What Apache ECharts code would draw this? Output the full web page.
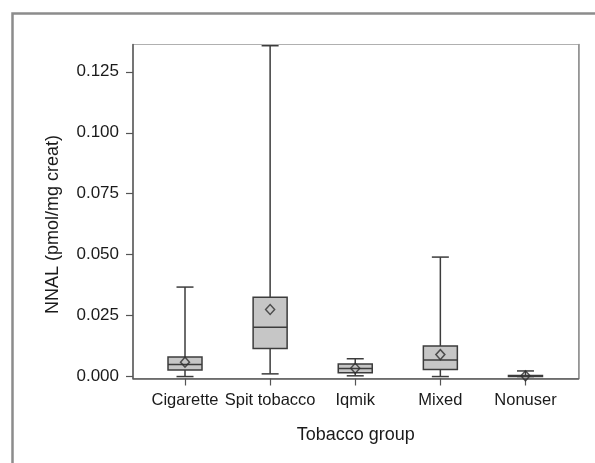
<!DOCTYPE html>
<html>
<head>
<meta charset="utf-8">
<script src="https://cdn.jsdelivr.net/npm/echarts@6/dist/echarts.min.js"></script>
<style>
html,body{margin:0;padding:0;background:#fff;}
#chart{width:595px;height:463px;}
</style>
</head>
<body>
<div id="chart"></div>
<script>
var categories = ['Cigarette', 'Spit tobacco', 'Iqmik', 'Mixed', 'Nonuser'];
var whiskerLow  = [0.0000, 0.0011, 0.0003, 0.0000, 0.0000];
var q1          = [0.0027, 0.0115, 0.0016, 0.0029, 0.0000];
var median      = [0.0049, 0.0202, 0.0033, 0.0068, 0.0001];
var q3          = [0.0080, 0.0325, 0.0051, 0.0125, 0.0004];
var whiskerHigh = [0.0367, 0.1357, 0.0073, 0.0490, 0.0023];
var means       = [0.0059, 0.0275, 0.0034, 0.0090, 0.0003];
var yTicks = [0, 0.025, 0.05, 0.075, 0.1, 0.125];

var boxData = categories.map(function (c, i) {
  return [i, whiskerLow[i], q1[i], median[i], q3[i], whiskerHigh[i]];
});
var meanData = categories.map(function (c, i) { return [i, means[i]]; });

var FONT = "'Liberation Sans', Arial, sans-serif";
var LINE = '#3c3c3c';

var chart = echarts.init(document.getElementById('chart'), null, {renderer: 'canvas'});
chart.setOption({
  animation: false,
  backgroundColor: '#fff',
  graphic: [{
    type: 'rect',
    shape: {x: 12.5, y: 13.5, width: 900, height: 900},
    style: {fill: 'none', stroke: '#8c8c8c', lineWidth: 2.5},
    silent: true
  }],
  grid: {
    left: 133, top: 44.5, width: 445.5, height: 334,
    show: true, borderColor: '#b0b0b0', borderWidth: 1
  },
  xAxis: {
    type: 'value',
    min: -0.611, max: 4.623,
    splitLine: {show: false},
    axisLine: {show: true, onZero: false, lineStyle: {color: '#555', width: 1.5}},
    axisTick: {show: true, length: 7, customValues: [0, 1, 2, 3, 4], lineStyle: {color: '#555', width: 1.2}},
    axisLabel: {
      customValues: [0, 1, 2, 3, 4],
      formatter: function (v) { return categories[Math.round(v)]; },
      fontFamily: FONT, fontSize: 16.5, color: '#1a1a1a', margin: 13
    },
    name: 'Tobacco group',
    nameLocation: 'middle',
    nameGap: 48,
    nameTextStyle: {fontFamily: FONT, fontSize: 18, color: '#1a1a1a'}
  },
  yAxis: [{
    type: 'value',
    min: -0.0008, max: 0.1362,
    splitLine: {show: false},
    axisLine: {show: true, onZero: false, lineStyle: {color: '#555', width: 1.5}},
    axisTick: {show: true, length: 7, customValues: yTicks, lineStyle: {color: '#555', width: 1.2}},
    axisLabel: {
      customValues: yTicks,
      formatter: function (v) { return v.toFixed(3); },
      fontFamily: FONT, fontSize: 17, color: '#1a1a1a', margin: 14
    },
    name: 'NNAL (pmol/mg creat)',
    nameLocation: 'middle',
    nameGap: 71,
    nameTextStyle: {fontFamily: FONT, fontSize: 18, color: '#1a1a1a', padding: [0, 26, 0, 0]}
  }, {
    type: 'value',
    position: 'right',
    min: -0.0008, max: 0.1362,
    splitLine: {show: false},
    axisLine: {show: true, onZero: false, lineStyle: {color: '#8c8c8c', width: 1.5}},
    axisTick: {show: false},
    axisLabel: {show: false}
  }],
  series: [{
    type: 'custom',
    data: boxData,
    encode: {x: 0, y: [1, 2, 3, 4, 5]},
    renderItem: function (params, api) {
      var x = api.value(0);
      var pLow = api.coord([x, api.value(1)]);
      var pQ1 = api.coord([x, api.value(2)]);
      var pMed = api.coord([x, api.value(3)]);
      var pQ3 = api.coord([x, api.value(4)]);
      var pHigh = api.coord([x, api.value(5)]);
      var cx = pQ1[0];
      var hw = 17, cw = 8.5;
      var ls = {stroke: LINE, lineWidth: 1.5, fill: 'none'};
      return {
        type: 'group',
        children: [
          {type: 'line', shape: {x1: cx, y1: pQ3[1], x2: cx, y2: pHigh[1]}, style: ls},
          {type: 'line', shape: {x1: cx, y1: pQ1[1], x2: cx, y2: pLow[1]}, style: ls},
          {type: 'line', shape: {x1: cx - cw, y1: pHigh[1], x2: cx + cw, y2: pHigh[1]}, style: ls},
          {type: 'line', shape: {x1: cx - cw, y1: pLow[1], x2: cx + cw, y2: pLow[1]}, style: ls},
          {type: 'rect', shape: {x: cx - hw, y: pQ3[1], width: hw * 2, height: pQ1[1] - pQ3[1]},
           style: {fill: '#c6c6c6', stroke: LINE, lineWidth: 1.5}},
          {type: 'line', shape: {x1: cx - hw, y1: pMed[1], x2: cx + hw, y2: pMed[1]}, style: ls}
        ]
      };
    }
  }, {
    type: 'scatter',
    data: meanData,
    symbol: 'diamond',
    symbolSize: [9, 10],
    itemStyle: {color: 'rgba(0,0,0,0)', borderColor: '#2e2e2e', borderWidth: 1.5},
    z: 5
  }]
});
</script>
</body>
</html>
